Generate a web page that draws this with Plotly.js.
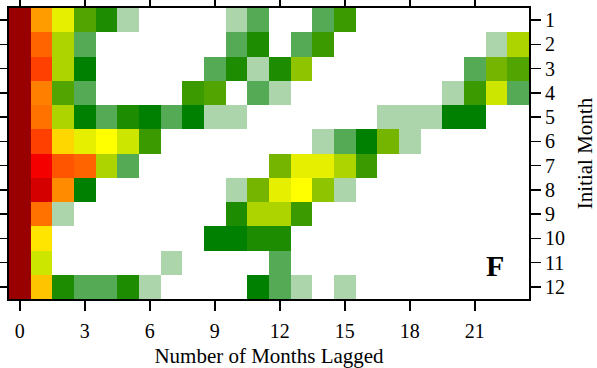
<!DOCTYPE html>
<html>
<head>
<meta charset="utf-8">
<script src="https://cdn.plot.ly/plotly-3.0.1.min.js"></script>
<style>
  html, body { margin: 0; padding: 0; background: #ffffff; }
  #chart { width: 597px; height: 368px; }
</style>
</head>
<body>
<div id="chart"></div>
<script>
// Lags (x) and initial months (y)
const lags = Array.from({length: 24}, (_, i) => i);
const months = [1, 2, 3, 4, 5, 6, 7, 8, 9, 10, 11, 12];
const xTicks = [0, 3, 6, 9, 12, 15, 18, 21];
const yTicks = [1, 2, 3, 4, 5, 6, 7, 8, 9, 10, 11, 12];

// Colour levels, lowest to highest
const palette = [
  "#acd5ac", "#55aa55", "#008000", "#1e8c00", "#3a9a00", "#52a500",
  "#75b500", "#8fc400", "#aed400", "#cce600", "#e6ef00", "#ffff00",
  "#ffe500", "#ffd700", "#ffc400", "#ff9d00", "#ff8c00", "#ff8000",
  "#ff7200", "#ff6400", "#ff5500", "#ff4000", "#f50000", "#d40000",
  "#990000"
];

const n = null;
// Level per lag (0..23), one array per initial month
const month1  = [24,15,10,5,3,0,n,n,n,n,0,1,n,n,1,4,n,n,n,n,n,n,n,n];
const month2  = [24,19,8,1,n,n,n,n,n,n,1,3,n,1,4,n,n,n,n,n,n,n,0,8];
const month3  = [24,21,8,2,n,n,n,n,n,1,3,0,3,7,n,n,n,n,n,n,n,1,6,5];
const month4  = [24,17,5,1,n,n,n,n,4,5,n,1,0,n,n,n,n,n,n,n,0,4,9,1];
const month5  = [24,18,8,2,1,3,2,1,2,0,0,n,n,n,n,n,n,0,0,0,2,2,n,n];
const month6  = [24,21,13,10,11,9,4,n,n,n,n,n,n,n,0,1,2,6,0,n,n,n,n,n];
const month7  = [24,22,20,19,8,1,n,n,n,n,n,n,6,10,10,8,4,n,n,n,n,n,n,n];
const month8  = [24,23,16,2,n,n,n,n,n,n,0,6,10,11,7,0,n,n,n,n,n,n,n,n];
const month9  = [24,18,0,n,n,n,n,n,n,n,3,8,8,4,n,n,n,n,n,n,n,n,n,n];
const month10 = [24,12,n,n,n,n,n,n,n,2,2,3,3,n,n,n,n,n,n,n,n,n,n,n];
const month11 = [24,9,n,n,n,n,n,0,n,n,n,n,1,n,n,n,n,n,n,n,n,n,n,n];
const month12 = [24,14,3,1,1,3,0,n,n,n,n,2,1,0,n,0,n,n,n,n,n,n,n,n];

const z = [month1, month2, month3, month4, month5, month6,
           month7, month8, month9, month10, month11, month12];

// Discrete colour scale
const N = palette.length;
const colorscale = [];
palette.forEach((c, i) => {
  colorscale.push([i / N, c]);
  colorscale.push([(i + 1) / N, c]);
});

const serif = "'Liberation Serif', 'Times New Roman', serif";
const font = {family: serif, color: "#000000", size: 20};

const trace = {
  type: "heatmap",
  x: lags,
  y: months,
  z: z,
  colorscale: colorscale,
  zmin: -0.5,
  zmax: N - 0.5,
  showscale: false,
  hoverongaps: false,
  xgap: 0,
  ygap: 0
};

const layout = {
  width: 597,
  height: 368,
  margin: {l: 9, r: 68, t: 8, b: 69, pad: 0},
  paper_bgcolor: "#ffffff",
  plot_bgcolor: "#ffffff",
  font: font,
  showlegend: false,
  xaxis: {
    range: [-0.5, 23.5],
    tickvals: xTicks,
    ticktext: xTicks.map(String),
    ticks: "outside",
    ticklen: 10,
    tickwidth: 1.5,
    tickcolor: "#000000",
    showline: true,
    linecolor: "#000000",
    linewidth: 2,
    mirror: "ticks",
    showgrid: false,
    zeroline: false,
    ticklabelstandoff: 3,
    tickfont: {size: 20, family: serif},
    title: {text: "Number of Months Lagged", font: {size: 21, family: serif}, standoff: 8}
  },
  yaxis: {
    range: [12.5, 0.5],
    side: "right",
    tickvals: yTicks,
    ticktext: yTicks.map(String),
    ticks: "outside",
    ticklen: 10,
    tickwidth: 1.5,
    tickcolor: "#000000",
    showline: true,
    linecolor: "#000000",
    linewidth: 2,
    mirror: "ticks",
    showgrid: false,
    zeroline: false,
    tickfont: {size: 20, family: serif},
    title: {text: "Initial Month", font: {size: 21, family: serif}, standoff: 15}
  },
  annotations: [{
    xref: "paper", yref: "paper",
    x: 0.935, y: 0.116,
    xanchor: "center", yanchor: "middle",
    text: "<b>F</b>",
    showarrow: false,
    font: {size: 30, family: serif, color: "#000000"}
  }]
};

Plotly.newPlot("chart", [trace], layout, {displayModeBar: false, staticPlot: true});
</script>
</body>
</html>
